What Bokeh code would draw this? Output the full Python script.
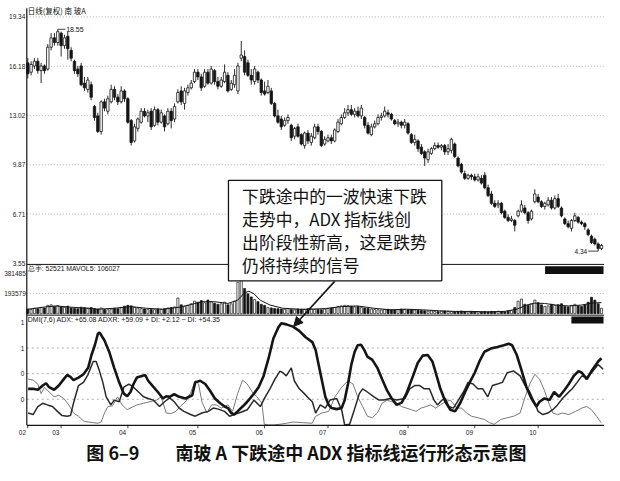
from bokeh.plotting import figure
from bokeh.models import Range1d, ColumnDataSource, Arrow, NormalHead
from bokeh.core.properties import value
from bokeh.embed import file_html
from bokeh.resources import INLINE

# ---------------- data ----------------
opens = [16.4,15.8,16.2,16.5,15.9,16.2,16.0,17.4,18.0,17.7,
         18.3,17.5,18.1,17.2,16.5,16.0,16.2,15.1,14.7,15.0,
         13.6,13.0,12.0,13.9,13.3,13.9,14.7,14.2,13.9,14.6,
         14.1,12.7,11.4,12.2,12.6,13.3,13.0,13.3,12.4,13.4,
         12.6,13.0,12.5,13.3,12.8,13.9,14.6,13.8,14.5,14.8,
         15.2,15.8,15.5,14.9,15.8,15.1,15.9,15.2,14.9,15.2,
         15.6,14.7,15.0,14.6,16.7,16.8,16.4,15.6,15.2,15.8,
         15.3,14.6,14.5,14.6,13.8,13.0,12.8,12.4,12.7,12.4,
         11.7,12.3,11.8,11.1,11.9,11.3,11.6,12.3,12.0,11.2,
         11.4,11.6,11.4,12.0,12.5,12.9,13.2,13.4,13.1,13.3,
         13.0,12.9,12.4,11.8,12.3,12.5,12.9,13.0,13.2,13.1,
         12.7,12.5,12.6,12.4,12.5,11.8,11.3,11.4,11.0,10.7,
         10.2,10.6,10.9,11.1,11.0,11.1,10.7,10.8,11.2,10.3,
         9.9,9.3,9.0,9.2,9.1,8.9,9.0,9.2,8.4,8.0,
         7.4,7.3,7.4,6.9,6.5,6.3,6.3,6.6,6.9,7.1,
         6.8,6.4,7.5,7.8,7.5,7.2,7.3,7.6,7.1,7.7,
         7.1,6.4,6.1,5.8,6.3,6.5,6.2,6.1,5.7,5.3,
         5.1,4.8,4.5]
highs = [16.7,16.5,16.7,16.7,16.4,16.3,17.6,18.3,18.3,18.55,
         18.4,18.2,18.4,17.4,16.6,16.2,16.4,15.5,15.5,15.2,
         13.7,13.2,14.0,14.1,14.3,15.0,14.9,14.4,14.9,14.7,
         14.2,12.8,12.5,12.9,13.5,13.5,13.4,13.5,13.6,13.5,
         13.4,13.1,13.5,13.5,13.8,14.7,14.9,14.8,15.0,15.3,
         16.0,16.0,15.7,16.0,16.0,16.2,16.0,15.5,15.5,16.3,
         15.8,15.3,16.0,16.4,17.8,17.2,16.6,16.0,16.2,15.9,
         15.4,15.2,15.3,14.8,13.9,13.4,13.0,12.9,13.1,12.5,
         12.3,12.5,11.9,12.0,12.1,11.9,12.5,12.5,12.1,11.7,
         11.8,11.8,12.2,12.8,13.1,13.5,13.7,13.7,13.5,13.6,
         13.7,13.0,12.6,12.5,12.7,13.1,13.2,13.6,13.4,13.2,
         12.8,12.8,12.7,12.8,12.6,11.9,11.8,11.5,11.2,10.8,
         10.9,11.0,11.3,11.3,11.2,11.2,11.2,11.6,11.3,10.4,
         10.0,9.5,9.3,9.3,9.3,9.3,9.2,9.4,8.6,8.2,
         7.6,7.6,7.5,7.0,6.7,6.6,6.4,7.0,7.6,7.3,
         6.9,7.0,8.3,8.0,7.6,7.5,7.8,7.8,7.9,8.0,
         7.2,6.5,6.3,6.4,6.8,6.6,6.3,6.2,5.8,5.4,
         5.2,4.9,4.8]
lows = [15.4,15.6,16.0,15.7,15.1,15.7,15.9,17.2,17.5,17.5,
        16.8,17.3,16.6,16.5,15.7,15.5,14.9,14.6,14.5,14.0,
        12.7,11.9,11.8,13.3,13.1,13.8,14.0,13.7,13.8,13.9,
        12.5,11.1,11.3,12.0,12.5,12.9,12.6,12.1,12.3,12.4,
        12.5,12.0,12.4,12.2,12.6,13.8,13.7,13.4,14.3,14.7,
        15.1,15.3,14.6,14.8,15.0,15.0,15.0,14.7,14.8,15.1,
        14.5,14.6,14.8,14.4,16.5,15.6,15.5,15.0,15.0,15.1,
        14.3,14.3,14.4,13.7,12.9,12.5,12.1,12.3,12.5,11.4,
        11.5,11.6,11.1,10.9,11.2,11.1,11.5,11.8,11.0,11.1,
        11.3,11.2,11.3,11.9,12.4,12.8,13.0,13.0,12.9,12.9,
        12.8,12.2,11.8,11.7,12.2,12.4,12.7,12.9,12.9,12.7,
        12.4,12.3,12.2,12.2,11.8,11.2,11.1,10.7,10.5,9.8,
        10.0,10.5,10.8,10.9,10.8,10.5,10.5,10.6,10.3,9.7,
        9.3,8.9,8.9,8.9,8.8,8.8,8.6,8.3,7.8,7.3,
        7.1,7.1,6.7,6.4,6.2,6.2,5.6,6.5,6.8,6.7,
        6.1,6.3,7.4,7.4,7.1,7.0,7.2,7.0,7.0,7.1,
        6.5,6.0,5.8,5.6,6.2,6.1,6.0,5.7,5.3,4.8,
        4.7,4.34,4.4]
closes = [15.7,16.3,16.5,15.9,16.2,15.9,17.4,18.0,17.7,18.4,
          17.5,18.0,17.3,16.7,15.9,15.7,15.0,14.8,15.3,14.2,
          12.9,12.0,13.9,13.5,14.1,14.7,14.2,13.9,14.6,14.1,
          12.6,11.3,12.3,12.8,13.3,13.0,13.2,12.3,13.4,12.6,
          13.2,12.3,13.3,12.7,13.6,14.5,13.9,14.6,14.8,15.1,
          15.8,15.5,14.8,15.8,15.1,16.0,15.2,14.9,15.3,15.8,
          14.6,15.1,15.6,16.2,16.9,15.8,15.6,15.3,16.0,15.3,
          14.5,14.4,14.9,13.8,13.0,12.6,12.3,12.7,12.9,11.6,
          12.2,11.7,11.2,11.9,11.4,11.7,12.3,12.0,11.1,11.5,
          11.6,11.4,12.1,12.6,12.9,13.2,13.4,13.1,13.3,13.0,
          13.5,12.4,11.9,12.3,12.5,12.9,13.0,13.3,13.1,12.8,
          12.5,12.6,12.4,12.6,11.9,11.3,11.5,10.9,10.6,10.3,
          10.7,10.9,11.1,11.0,11.1,10.7,10.9,11.5,10.4,9.8,
          9.4,9.0,9.2,9.1,8.9,9.1,8.7,8.4,7.9,7.4,
          7.2,7.4,6.8,6.5,6.3,6.4,6.0,6.9,7.3,6.8,
          6.3,6.9,8.0,7.5,7.2,7.4,7.6,7.1,7.7,7.2,
          6.6,6.1,5.9,6.3,6.6,6.2,6.1,5.9,5.4,4.9,
          4.8,4.5,4.7]
# volume in thousands of shares
volumes_k = [45,40,52,48,60,55,80,85,70,78,65,60,72,55,50,48,62,58,52,60,
             50,45,55,40,38,45,52,48,60,72,80,75,62,55,48,45,42,40,38,45,42,48,55,60,65,
             150,85,70,80,95,120,110,125,105,130,115,100,90,95,110,85,95,120,
             300,355,240,
             190,160,135,115,90,80,
             60,55,50,48,45,42,50,40,38,45,42,40,48,45,40,42,38,45,
             50,55,60,70,75,80,78,72,65,70,60,
             55,50,45,40,38,35,40,42,38,35,40,45,42,38,40,35,32,30,28,
             25,28,22,20,24,26,22,20,18,22,25,20,18,22,20,18,16,20,18,22,20,24,22,18,25,30,60,120,140,90,
             80,95,130,105,85,70,75,90,80,85,95,70,65,80,90,75,70,85,110,157,130,95,52.521]
mavol_idx = [0.1,4.5,8.4,13.2,18.1,21.0,25.9,30.8,35.6,40.5,45.4,48.3,52.2,56.1,60.0,62.9,64.9,66.3,
             67.8,69.7,72.6,76.5,81.4,84.3,89.2,94.1,98.9,103.8,108.7,113.5,118.4,123.3,128.1,133.0,
             137.9,142.8,146.6,149.6,152.0,154.9,158.3,162.2,166.1,169.0,172.0]
mavol_k = [43,62,74,62,52,43,52,68,52,43,62,83,114,114,98,129,197,215,190,129,83,52,43,43,49,68,74,
           52,37,43,37,28,22,22,18,22,43,83,101,98,83,74,83,101,106.027]

adx_idx = [0.1,1.6,3.0,4.5,5.5,6.4,7.9,9.3,10.8,11.8,12.8,13.7,15.2,16.7,18.1,19.1,20.1,21.0,21.5,23.0,
           24.4,25.9,27.4,28.8,29.8,30.8,31.7,32.7,34.2,35.2,36.1,37.6,39.0,40.5,41.5,42.5,43.9,45.4,47.3,
           49.3,50.2,51.7,53.2,54.6,56.1,57.5,59.0,60.0,61.0,61.9,62.9,64.4,65.8,67.8,69.2,70.7,72.2,73.6,
           75.1,76.0,77.5,79.5,81.4,83.3,85.3,86.3,87.2,88.2,89.2,90.2,91.1,92.6,94.1,95.0,96.0,97.0,98.0,
           98.9,99.9,100.9,101.8,103.3,104.8,106.2,107.7,109.1,110.6,112.1,113.5,115.5,116.9,118.4,119.9,
           121.3,122.3,123.7,125.2,126.7,128.1,129.6,131.1,132.5,134.0,135.4,136.9,138.8,140.8,142.7,144.2,
           145.2,146.6,148.1,149.5,151.0,152.5,153.4,154.9,156.4,157.8,159.3,160.8,162.2,163.7,165.1,166.1,
           167.6,169.0,171.0,172.0]
adx_val = [35.2,35.2,34.3,38.4,40.6,36.8,34.3,38.4,44.7,48.7,46.9,43.7,46.2,49.4,55.7,68.2,77.7,88.7,90.3,
           82.4,71.4,55.7,41.5,30.5,28.0,32.1,39.9,46.2,47.8,48.7,43.1,37.4,32.1,25.8,28.0,27.4,29.9,27.4,
           25.8,28.9,41.5,43.1,39.9,33.6,25.8,21.7,17.9,16.4,11.6,10.1,13.2,17.9,22.6,30.5,36.8,47.8,65.1,
           84.0,95.0,99.1,98.1,95.9,91.8,85.5,80.8,73.0,58.8,43.1,27.4,19.5,16.4,15.4,16.4,24.2,39.9,58.8,
           71.4,77.7,78.3,73.0,66.7,63.5,55.7,44.7,33.6,25.8,19.5,21.7,30.5,47.8,60.4,67.6,68.2,61.9,50.9,
           35.2,22.6,14.8,13.2,21.1,32.1,41.5,50.9,61.9,71.4,74.5,76.1,77.7,79.2,77.7,68.2,52.5,36.8,25.8,
           17.9,22.6,25.8,24.2,32.1,27.4,33.6,39.9,47.8,52.5,50.9,44.7,52.5,61.9,65.08]

mdi_idx = [0.1,1.6,3.0,4.5,5.9,7.4,8.9,10.3,11.8,12.8,13.7,15.2,16.7,18.1,19.6,20.5,21.5,22.5,23.5,24.9,
           25.9,27.4,28.8,30.3,31.7,33.2,34.7,36.1,37.6,39.5,41.0,42.5,43.9,45.4,46.8,48.8,50.2,52.2,54.1,
           55.6,57.1,59.0,60.5,61.9,63.9,65.8,67.8,69.7,71.2,72.6,74.1,75.6,76.5,77.5,79.0,79.9,81.4,82.9,
           84.3,85.3,86.3,87.7,89.2,90.6,92.6,94.1,95.0,96.5,97.9,99.4,100.4,101.8,103.8,105.3,106.7,108.7,
           110.6,113.1,114.5,116.0,117.5,118.9,120.4,121.8,122.8,124.2,125.2,126.2,127.6,129.1,130.6,132.0,
           133.5,134.9,136.4,137.9,139.3,140.8,142.3,143.7,145.7,147.6,149.1,150.5,152.0,153.0,154.4,155.9,
           157.4,158.8,160.3,161.7,163.2,164.7,166.1,167.6,169.0,171.0,172.5]
mdi_val = [11.6,10.1,17.9,21.1,19.5,17.9,13.2,9.1,8.5,9.1,21.1,38.4,41.5,49.4,61.9,61.9,52.5,41.5,27.4,19.5,
           24.2,22.6,36.8,39.9,36.8,32.1,27.4,25.8,24.2,17.9,22.6,26.4,22.6,16.4,13.2,10.1,8.5,11.6,13.2,
           16.4,15.4,13.2,8.5,10.1,12.3,14.8,24.2,17.9,27.4,35.2,44.7,52.5,50.9,47.8,55.7,43.1,35.2,30.5,
           25.8,22.6,11.6,19.5,16.4,24.2,25.8,14.8,0.0,0.6,14.8,30.5,35.2,32.1,27.4,24.2,24.2,25.8,
           24.2,25.8,35.2,38.4,38.4,35.2,35.2,24.2,19.5,24.2,25.8,17.9,16.4,24.2,32.1,41.5,
           39.9,35.2,35.2,27.4,38.4,39.9,41.5,50.9,52.5,47.8,38.4,32.1,21.1,13.2,10.1,11.6,
           14.8,19.5,25.8,30.5,35.2,41.5,47.8,46.2,50.9,58.8,54.35]

pdi_idx = [0.1,1.6,3.0,4.0,5.0,6.4,7.9,9.3,10.8,12.3,13.7,15.2,16.7,18.1,19.6,21.0,22.0,23.0,24.0,25.4,
           26.9,28.3,29.8,31.3,32.7,34.7,36.6,38.6,40.0,41.5,42.9,44.4,45.9,47.3,48.8,50.2,51.2,52.2,53.7,
           55.1,56.6,58.0,60.0,61.4,62.9,64.4,65.8,67.3,68.7,70.2,70.9,72.2,73.6,75.6,77.5,79.5,82.4,85.3,
           86.3,88.2,90.2,92.1,94.1,96.0,97.5,98.9,100.4,101.8,103.3,104.8,106.2,107.7,109.1,110.6,112.1,
           113.5,115.0,116.4,117.9,119.4,120.8,122.3,123.7,125.2,126.7,128.6,130.1,131.5,133.0,135.0,136.9,
           138.4,139.8,141.8,143.7,145.7,147.6,149.1,150.5,152.0,153.4,154.9,156.4,157.4,158.8,160.3,162.2,
           164.2,166.1,167.6,169.0,170.5,171.9]
pdi_val = [44.7,43.7,39.9,30.5,36.8,32.1,27.4,28.9,25.8,19.5,11.6,8.5,3.8,2.8,2.2,1.6,2.8,11.6,17.9,18.6,
           27.4,19.5,14.8,17.3,19.5,21.1,22.6,24.2,27.4,11.6,11.0,13.2,18.6,22.6,31.1,43.1,39.9,22.6,11.6,
           19.5,19.5,16.4,19.5,13.2,30.5,43.7,39.9,32.1,27.4,21.1,0.6,0.0,0.0,0.6,1.6,2.8,2.2,1.6,
           8.5,11.6,13.2,27.4,36.8,43.1,39.9,27.4,17.9,8.5,6.9,11.6,21.1,24.2,22.6,21.1,17.9,
           16.4,14.8,13.2,16.4,17.9,19.5,16.4,19.5,22.6,24.2,16.4,16.4,11.6,8.5,6.9,5.3,
           2.2,0.6,5.3,6.9,8.5,11.6,27.4,39.9,49.4,44.7,33.6,19.5,11.6,10.1,11.6,10.1,
           13.2,16.4,17.9,14.8,8.5,2.12]

price_ticks = [19.34, 16.18, 13.02, 9.87, 6.71, 3.55]
vol_ticks = [381485, 193579]
dmi_grid = [25, 50, 75]
dmi_labels = ["1", "1", "0", "0"]
dmi_label_vals = [100, 75, 50, 25]
month_idx = [0, 10, 30, 51, 71, 90, 114, 134, 153]
month_labels = ["02", "03", "04", "05", "06", "07", "08", "09", "10"]

title_txt = "日线(复权) 南 玻A"
vol_header = "总手: 52521  MAVOL5: 106027"
dmi_header = "DMI(7,6) ADX: +65.08  ADXR: +59.09  + DI: +2.12  − DI: +54.35"
note_lines = ["下跌途中的一波快速下跌", "走势中，ADX 指标线创", "出阶段性新高，这是跌势", "仍将持续的信号"]
caption = "图 6–9　　南玻 A 下跌途中 ADX 指标线运行形态示意图"

# ---------------- layout (reference pixel space) ----------------
WR, HR = 620, 481
X0, DX = 28.0, 3.424            # first candle position and spacing
AXL = 27                        # left axis
PY_LO, PY_HI = 272.0, 17.0      # pixel rows of 3.55 and 19.34
VY0, VY1 = 324.0, 303.0         # volume baseline, 193579 row
DY0, DY1 = 439.0, 333.0         # DMI 0 and 100 rows

p = figure(width=604, height=465, x_range=Range1d(0, WR), y_range=Range1d(HR, 0),
           output_backend="svg", toolbar_location=None,
           x_axis_location=None, y_axis_location=None, min_border=0)
p.grid.visible = False
p.outline_line_color = None
p.background_fill_color = "white"
p.border_fill_color = "white"

p.extra_x_ranges = {"idx": Range1d((0 - X0) / DX, (WR - X0) / DX)}
pp = (price_ticks[0] - price_ticks[-1]) / (PY_LO - PY_HI)
vp = vol_ticks[1] / (VY0 - VY1)
dp = 100.0 / (DY0 - DY1)
p.extra_y_ranges = {
    "price": Range1d(price_ticks[-1] - (HR - PY_LO) * pp, price_ticks[0] + PY_HI * pp),
    "vol": Range1d(-(HR - VY0) * vp, VY0 * vp),
    "dmi": Range1d(-(HR - DY0) * dp, DY0 * dp),
}

SMALL = value("Liberation Sans")
CJK = value("Noto Sans CJK SC")
INK = "#151515"
GRID = "#9a9a9a"

# grid lines
p.segment(x0=AXL, x1=WR, y0=price_ticks[:-1], y1=price_ticks[:-1], y_range_name="price",
          line_color=GRID, line_width=0.8, line_dash="1 2")
p.segment(x0=AXL, x1=WR, y0=vol_ticks[1:], y1=vol_ticks[1:], y_range_name="vol",
          line_color=GRID, line_width=0.8, line_dash="1 2")
p.segment(x0=AXL, x1=WR, y0=dmi_grid, y1=dmi_grid, y_range_name="dmi",
          line_color=GRID, line_width=0.8, line_dash="2 3")

# candles
n = min(len(opens), len(highs), len(lows), len(closes), len(volumes_k))
idx = list(range(n))
up = [closes[k] >= opens[k] for k in idx]
src = ColumnDataSource(dict(
    i=idx, o=opens[:n], h=highs[:n], l=lows[:n], c=closes[:n],
    top=[max(opens[k], closes[k]) for k in idx],
    bot=[min(opens[k], closes[k]) for k in idx],
    vol=[v * 1000 for v in volumes_k[:n]],
    fill=["white" if u else INK for u in up],
))
p.segment(x0="i", y0="l", x1="i", y1="h", source=src, x_range_name="idx", y_range_name="price",
          line_color=INK, line_width=0.9)
p.vbar(x="i", width=0.72, top="top", bottom="bot", source=src, x_range_name="idx",
       y_range_name="price", fill_color="fill", line_color=INK, line_width=0.8)

# volume
p.vbar(x="i", width=0.62, top="vol", bottom=0, source=src, x_range_name="idx", y_range_name="vol",
       fill_color="fill", line_color=INK, line_width=0.7)
p.line(mavol_idx, [v * 1000 for v in mavol_k], x_range_name="idx", y_range_name="vol",
       line_color=INK, line_width=1.0)

# DMI lines
p.line(pdi_idx, pdi_val, x_range_name="idx", y_range_name="dmi", line_color="#7a7a7a", line_width=1.0)
p.line(mdi_idx, mdi_val, x_range_name="idx", y_range_name="dmi", line_color="#2a2a2a", line_width=1.5)
p.line(adx_idx, adx_val, x_range_name="idx", y_range_name="dmi", line_color=INK, line_width=2.6)

# frame lines
p.segment(x0=[AXL], y0=[8], x1=[AXL], y1=[DY0], line_color=INK, line_width=1.2)
p.segment(x0=[AXL, AXL, AXL], y0=[PY_LO + 1, 325.5, DY0 + 0.5], x1=[WR, WR, WR],
          y1=[PY_LO + 1, 325.5, DY0 + 0.5], line_color=INK, line_width=[1.0, 1.0, 1.4])

# header blocks at right
p.quad(left=[559, 586], right=[619, 619], top=[275, 327], bottom=[283, 334],
       fill_color="#111111", line_color=None)

# y labels
p.text(x=[25.5] * len(price_ticks), y=price_ticks, text=[f"{t:.2f}" for t in price_ticks],
       y_range_name="price", text_align="right", text_baseline="middle",
       text_font=SMALL, text_font_size="6.5px", text_color="#222")
p.text(x=[26] * len(vol_ticks), y=vol_ticks, text=[str(t) for t in vol_ticks],
       y_range_name="vol", text_align="right", text_baseline="middle",
       text_font=SMALL, text_font_size="6.5px", text_color="#222")
p.text(x=[24.5] * len(dmi_labels), y=dmi_label_vals, text=dmi_labels,
       y_range_name="dmi", text_align="right", text_baseline="middle",
       text_font=SMALL, text_font_size="6.5px", text_color="#222")

# month ticks and labels
p.segment(x0=month_idx, x1=month_idx, y0=[DY0] * len(month_idx), y1=[DY0 + 3.5] * len(month_idx),
          x_range_name="idx", line_color=INK, line_width=0.8)
p.text(x=[m - 1.6 for m in month_idx], y=[DY0 + 8] * len(month_idx), text=month_labels,
       x_range_name="idx", text_align="center", text_baseline="middle",
       text_font=SMALL, text_font_size="6.5px", text_color="#222")

# headers
p.text(x=[AXL + 1], y=[10], text=[title_txt], text_align="left", text_baseline="middle",
       text_font=CJK, text_font_size="7.5px", text_color="#111")
p.text(x=[AXL + 1], y=[277.5], text=[vol_header], text_align="left", text_baseline="middle",
       text_font=SMALL, text_font_size="6.8px", text_color="#111")
p.text(x=[AXL + 1], y=[330], text=[dmi_header], text_align="left", text_baseline="middle",
       text_font=SMALL, text_font_size="7px", text_color="#111")

# max / min markers
hi_i = max(range(n), key=lambda k: highs[k])
lo_i = min(range(n), key=lambda k: lows[k])
p.segment(x0=[hi_i, lo_i - 3.0], x1=[hi_i + 2.3, lo_i], y0=[highs[hi_i], lows[lo_i]],
          y1=[highs[hi_i], lows[lo_i]], x_range_name="idx", y_range_name="price",
          line_color=INK, line_width=0.8)
p.text(x=[hi_i + 2.5], y=[highs[hi_i]], text=[f"{highs[hi_i]:.2f}"], x_range_name="idx",
       y_range_name="price", text_align="left", text_baseline="middle",
       text_font=SMALL, text_font_size="7px", text_color="#111")
p.text(x=[lo_i - 3.3], y=[lows[lo_i]], text=[f"{lows[lo_i]:.2f}"], x_range_name="idx",
       y_range_name="price", text_align="right", text_baseline="middle",
       text_font=SMALL, text_font_size="6.5px", text_color="#111")

# callout box
p.quad(left=[234], right=[453], top=[186], bottom=[290], fill_color="white",
       line_color=INK, line_width=1.3)
p.text(x=[248] * len(note_lines), y=[202, 226.5, 250, 274], text=note_lines,
       text_align="left", text_baseline="middle", text_font=CJK, text_font_size="16.8px",
       text_color="#111")
p.add_layout(Arrow(end=NormalHead(size=9, fill_color=INK, line_color=INK),
                   x_start=343, y_start=290.5, x_end=301, y_end=337,
                   line_color=INK, line_width=1.6))

# caption
p.text(x=[314], y=[467], text=[caption], text_align="center", text_baseline="middle",
       text_font=CJK, text_font_size="18px", text_font_style="bold", text_color="#111")

open("out.html", "w").write(file_html(p, INLINE))
